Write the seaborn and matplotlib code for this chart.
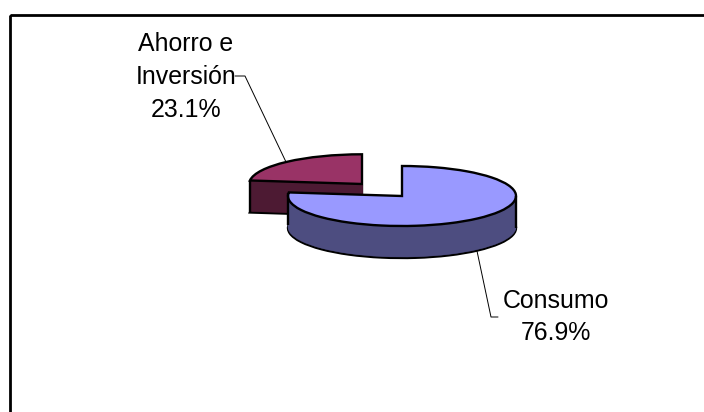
import matplotlib
matplotlib.use('Agg')
import matplotlib.pyplot as plt
import seaborn as sns
from matplotlib.patches import Rectangle

# Datos
categorias = ['Consumo', 'Ahorro e\nInversión']
valores = [76.9, 23.1]
colores_top = ['#9999FF', '#993366']
colores_lado = ['#4D4D80', '#4D1A33']

W, H = 704, 412

sns.set_theme(style='white')
plt.rcParams['font.family'] = ['Liberation Sans', 'DejaVu Sans']

fig = plt.figure(figsize=(W / 100, H / 100), dpi=100)

# Eje de la torta: radio 1 = 114 px en x, 30 px en y (perspectiva)
ax = fig.add_axes([0, 0, 1, 1])
rx, ry = 114, 30
prof = 32


def centro(px, py):
    return (px / rx, (H - py) / ry)


def porcion(i, px, py, radio):
    # angulos del grafico: Consumo desde las 12 en sentido horario
    vals = [valores[i], 100 - valores[i]]
    ini = 90 if i == 0 else 90 + 360 * valores[1] / 100
    # pared lateral: misma porcion repetida hacia abajo
    for d in range(prof, 0, -1):
        ec = 'black' if d == prof else colores_lado[i]
        lw = 1.7 if d == prof else 0.3
        wedges, _ = ax.pie(vals, startangle=ini, counterclock=False, radius=radio,
                           center=centro(px, py + d), colors=[colores_lado[i], 'none'],
                           wedgeprops={'edgecolor': ec, 'linewidth': lw}, frame=True)
        wedges[1].set_visible(False)
    wedges, _ = ax.pie(vals, startangle=ini, counterclock=False, radius=radio,
                       center=centro(px, py), colors=[colores_top[i], 'none'],
                       wedgeprops={'edgecolor': 'black', 'linewidth': 1.7}, frame=True)
    wedges[1].set_visible(False)
    return wedges[0]


porcion(1, 362, 184, 0.99)
porcion(0, 402, 196, 1.0)

ax.set_aspect('auto')
ax.set_xlim(0, W / rx)
ax.set_ylim(0, H / ry)
ax.axis('off')

# Capa en pixeles para marco, etiquetas y lineas guia
capa = fig.add_axes([0, 0, 1, 1])
capa.set_xlim(0, W)
capa.set_ylim(H, 0)
capa.axis('off')
capa.patch.set_alpha(0)

# el marco sale de la imagen por la derecha y por abajo
capa.add_patch(Rectangle((10, 15), 720, 420, fill=False, edgecolor='black', linewidth=2))

# Bordes verticales de las paredes
capa.vlines([250, 288, 516], [181, 193, 196], [181 + prof, 193 + prof, 196 + prof],
            color='black', linewidth=1.7)

capa.plot([235, 245, 286], [76, 76, 162], color='black', linewidth=0.7)
capa.plot([477, 491, 498], [251, 317, 317], color='black', linewidth=0.7)

capa.text(186, 77, f'{categorias[1]}\n{valores[1]}%', ha='center', va='center',
          fontsize=17.9, color='black', linespacing=1.47, multialignment='center')
capa.text(556, 317, f'{categorias[0]}\n{valores[0]}%', ha='center', va='center',
          fontsize=17.9, color='black', linespacing=1.47, multialignment='center')

fig.savefig('out.png', dpi=100)
